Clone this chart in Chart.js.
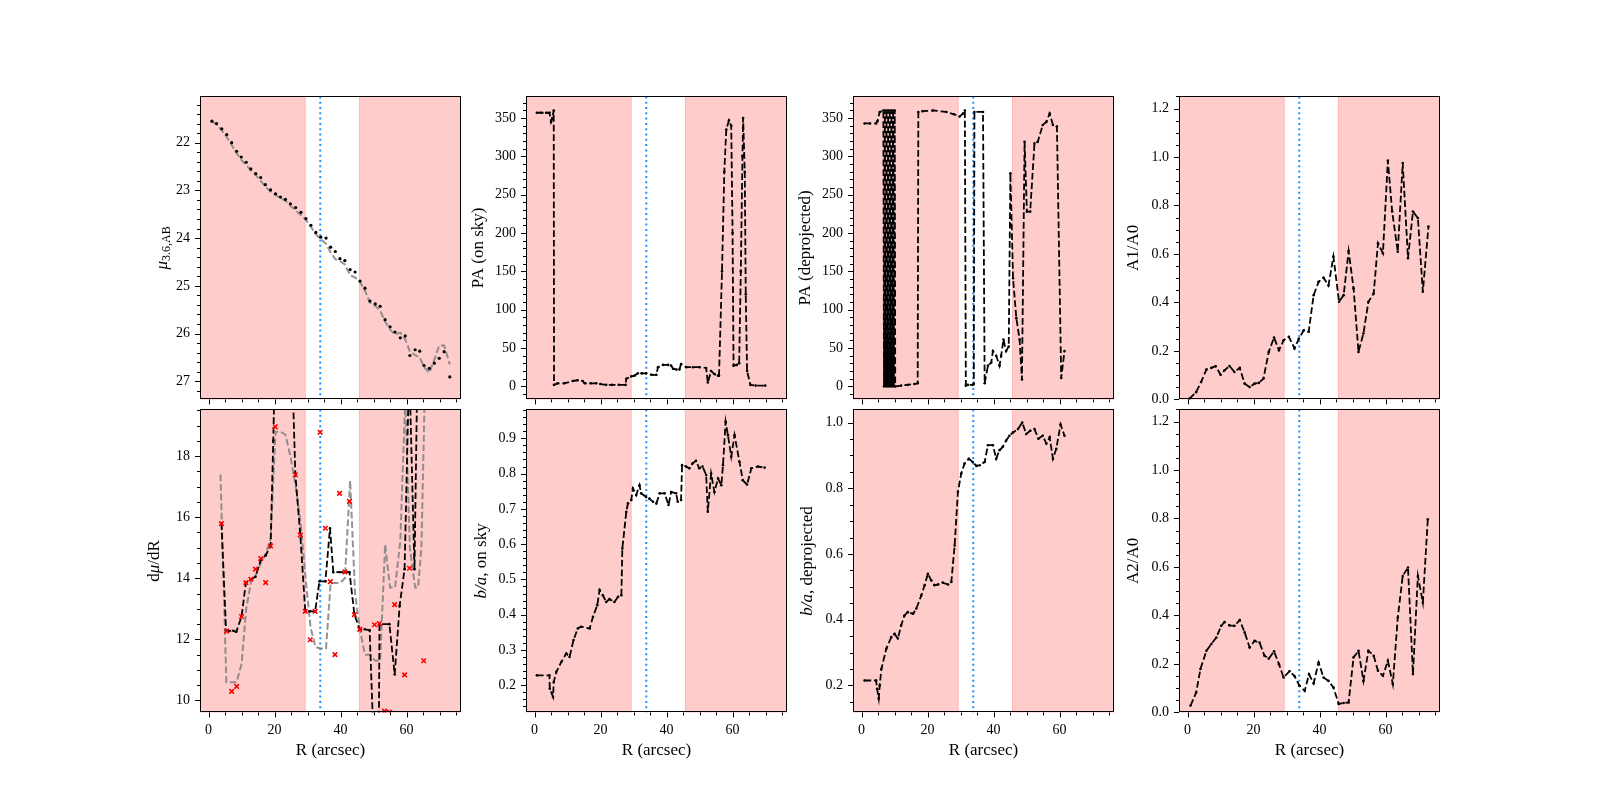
<!DOCTYPE html>
<html>
<head>
<meta charset="utf-8">
<script src="https://cdn.jsdelivr.net/npm/chart.js@4.4.0/dist/chart.umd.min.js"></script>
<style>
  html, body { margin: 0; padding: 0; background: #fff; }
  body { width: 1600px; height: 800px; position: relative; overflow: hidden; }
  canvas { position: absolute; }
</style>
</head>
<body>
<script>
// shared x axis (R in arcsec) and shaded zones
const xMin = -2.6;
const xMax = 76.5;
const xTicks = [0, 20, 40, 60];
const innerLo = 29.3;
const innerHi = 45.7;
const markR = 33.85;

// surface brightness
const muR = [1.0,2.4,4.0,5.5,7.0,8.5,9.9,11.4,12.8,14.3,15.8,17.2,18.8,20.3,21.8,23.3,24.8,26.4,28.0,29.5,31.0,32.5,34.0,35.6,37.0,38.4,39.8,41.3,42.9,44.4,45.9,47.4,48.9,50.5,52.0,53.5,55.0,56.5,58.1,59.6,61.0,62.6,64.0,65.3,66.9,68.4,69.9,71.4,73.1];
const muVal = [21.55,21.60,21.71,21.83,22.00,22.18,22.30,22.41,22.55,22.65,22.73,22.88,22.99,23.07,23.14,23.19,23.28,23.36,23.46,23.59,23.73,23.88,23.98,24.00,24.19,24.28,24.43,24.47,24.66,24.71,24.90,25.05,25.32,25.38,25.43,25.71,25.86,25.97,26.09,26.05,26.46,26.34,26.37,26.67,26.73,26.62,26.52,26.38,26.91];
const muFit = [21.55,21.62,21.74,21.88,22.05,22.22,22.36,22.47,22.58,22.68,22.80,22.92,23.03,23.10,23.16,23.22,23.32,23.42,23.52,23.62,23.76,23.92,24.02,24.12,24.30,24.44,24.48,24.55,24.78,24.82,24.92,25.10,25.35,25.42,25.52,25.75,25.92,26.02,25.98,26.12,26.38,26.45,26.50,26.70,26.82,26.55,26.25,26.25,26.65];
const muTicks = [22, 23, 24, 25, 26, 27];

// PA on sky
const paSkyR = [0.7,2.0,3.5,4.5,5.0,5.4,5.8,5.9,7.0,9.0,11.6,13.0,14.6,15.2,17.0,18.7,20.0,21.7,23.5,25.5,27.6,27.8,29.3,30.3,31.3,32.5,33.8,35.5,36.9,37.4,38.9,40.5,41.4,42.0,43.0,43.9,44.4,46.0,48.0,50.0,52.0,52.5,53.5,54.5,55.6,55.9,56.8,57.5,58.1,58.9,59.6,60.0,60.3,61.3,62.0,62.5,63.0,63.2,63.7,64.0,64.4,65.4,67.0,69.9];
const paSkyVal = [357,357,357,357,345,350,360,2,4,4,7,8,7,4,4,4,3,2,2,2,2,10,13,14,17,17,17,15,15,25,28,28,27,23,22,22,29,25,25,25,24,5,20,16,14,14,150,280,335,347,340,200,27,28,30,150,300,350,280,120,20,2,1,1];

// PA deprojected
const paDepR = [0.9,2.5,4.4,4.8,5.5,6.6,
  6.8,7.05,7.3,7.55,7.8,8.05,8.3,8.55,8.8,9.05,9.3,9.55,9.8,10.05,10.2,
  12.0,14.0,16.0,17.0,17.2,18.5,21.6,25.7,28.0,29.7,30.8,31.3,31.6,32.2,33.7,34.0,34.2,36.8,37.3,38.3,39.3,39.8,40.8,41.8,42.3,43.0,43.8,44.6,45.1,45.9,46.9,47.9,48.6,49.4,50.1,51.1,52.4,53.4,54.9,56.0,57.0,58.0,59.2,60.5,61.5];
const paDepVal = [343,343,343,346,358,360,
  0,360,0,360,0,360,0,360,0,360,0,360,0,360,0,
  1,2,3,4,358,359,360,358,355,352,356,360,1,2,2,3,358,358,4,27,31,46,40,27,40,61,46,52,278,141,89,61,9,319,228,228,317,319,341,345,356,341,339,11,46];
const paTicks = [0, 50, 100, 150, 200, 250, 300, 350];

// m=1 and m=2 Fourier amplitudes
const a1R = [0.6,2.6,4.1,5.7,7.2,8.5,10.0,11.2,12.7,14.2,15.8,17.3,18.8,20.3,21.6,23.0,24.6,26.2,27.7,29.1,30.7,32.4,33.7,35.2,36.7,38.2,39.7,41.2,42.7,44.2,45.9,47.3,48.8,50.3,51.8,53.3,54.8,56.4,57.7,59.2,60.7,62.0,63.7,65.2,66.8,68.3,69.8,71.3,73.0];
const a1Val = [0.003,0.03,0.072,0.123,0.13,0.137,0.102,0.12,0.138,0.113,0.13,0.065,0.051,0.065,0.068,0.086,0.196,0.255,0.203,0.244,0.258,0.21,0.25,0.285,0.279,0.43,0.485,0.502,0.47,0.589,0.403,0.43,0.612,0.458,0.196,0.272,0.403,0.437,0.644,0.603,0.985,0.775,0.609,0.975,0.582,0.775,0.748,0.444,0.713];
const a2R = [0.9,2.6,3.9,5.7,7.2,8.7,10.2,11.2,12.7,14.2,15.8,17.3,18.8,20.3,21.8,23.3,24.6,26.2,27.7,29.1,30.9,32.4,33.9,35.5,36.8,38.2,39.7,41.2,42.7,44.2,45.8,47.3,48.8,50.3,51.8,53.3,54.8,56.4,57.7,59.2,60.7,62.2,63.7,65.2,66.8,68.3,69.8,71.3,72.8];
const a2Val = [0.028,0.082,0.179,0.254,0.282,0.309,0.357,0.373,0.359,0.357,0.381,0.33,0.268,0.295,0.288,0.234,0.222,0.252,0.199,0.144,0.17,0.15,0.11,0.089,0.157,0.12,0.206,0.144,0.13,0.103,0.035,0.039,0.041,0.227,0.254,0.13,0.254,0.234,0.172,0.151,0.213,0.117,0.391,0.563,0.598,0.158,0.563,0.453,0.797];
const ampTicks = [0.0, 0.2, 0.4, 0.6, 0.8, 1.0, 1.2];

// surface brightness gradient
const dmuR = [3.9,5.3,6.0,7.5,8.4,10.0,11.3,12.8,14.2,15.8,17.3,18.8,19.6,20.1,25.3,26.3,27.8,29.3,30.8,32.3,33.6,35.4,36.8,37.8,39.7,41.3,42.7,44.2,45.8,47.3,48.8,49.9,51.6,51.8,54.8,56.4,57.9,59.4,60.8,62.4,63.3];
const dmuVal = [15.8,12.3,12.28,12.28,12.25,12.75,13.86,13.97,14.05,14.6,14.75,15.06,18.5,21,21,17.39,15.42,12.92,12.92,12.92,13.9,13.9,15.64,14.2,14.2,14.2,14.2,12.81,12.33,12.33,12.3,9.0,9.0,12.5,12.5,10.85,13.1,14.3,21,14.3,21];
const dmuObsR = [3.9,5.5,7.0,8.5,10.0,11.3,12.8,14.2,15.8,17.3,18.8,20.2,26.3,27.8,29.3,30.8,32.3,33.8,35.4,36.9,38.3,39.7,41.3,42.7,44.2,45.8,50.3,51.8,53.3,54.8,56.4,59.4,60.9,65.2];
const dmuObsVal = [15.79,12.27,10.30,10.46,12.75,13.86,13.97,14.30,14.65,13.86,15.06,18.96,17.39,15.42,12.92,11.99,12.92,18.78,15.64,13.89,11.50,16.78,14.21,16.52,12.81,12.33,12.48,12.52,9.65,9.62,13.14,10.84,14.33,11.30];
const dmuFitR = [3.6,5.4,8.5,10.0,11.4,12.9,14.3,15.8,17.3,18.8,20.3,21.8,23.3,24.8,26.4,27.9,29.4,30.9,32.4,34.0,35.6,37.0,38.4,39.8,41.3,42.9,44.4,45.9,47.4,48.9,50.5,52.0,53.5,55.0,56.5,58.1,59.6,61.0,62.6,63.5,64.5,65.5];
const dmuFitVal = [17.4,10.6,10.6,11.2,13.0,13.9,14.1,14.5,14.8,15.3,18.8,18.8,18.7,18.0,17.0,15.8,14.0,12.4,11.75,11.7,11.7,13.85,13.85,13.85,14.0,17.2,13.5,12.3,11.5,11.5,11.3,11.3,15.1,13.7,13.7,15.2,19.9,15.0,13.7,13.7,15.0,20.0];
const dmuTicks = [10, 12, 14, 16, 18];

// axis ratio on sky / deprojected
const baSkyR = [0.7,4.5,4.6,5.6,5.8,6.6,8.1,9.6,10.6,11.8,13.1,14.1,16.7,17.7,19.0,19.7,20.7,21.7,22.7,24.2,25.3,26.3,26.6,27.8,28.3,29.3,29.8,30.8,31.8,32.3,33.8,34.8,35.9,36.9,37.9,39.4,40.6,41.4,42.9,43.4,44.4,44.7,45.9,46.9,47.9,48.9,49.9,50.9,52.0,52.5,53.5,54.5,55.6,56.6,57.1,57.9,58.6,59.6,60.6,62.1,63.1,64.4,65.7,67.7,69.7];
const baSkyVal = [0.228,0.228,0.19,0.167,0.209,0.238,0.266,0.29,0.28,0.328,0.361,0.366,0.361,0.394,0.427,0.470,0.455,0.436,0.444,0.436,0.451,0.455,0.588,0.692,0.716,0.725,0.758,0.739,0.767,0.744,0.734,0.729,0.72,0.715,0.744,0.744,0.711,0.748,0.744,0.72,0.725,0.824,0.82,0.815,0.829,0.836,0.815,0.82,0.796,0.692,0.80,0.748,0.786,0.767,0.824,0.947,0.909,0.848,0.909,0.833,0.781,0.769,0.815,0.82,0.817];
const baSkyTicks = [0.2, 0.3, 0.4, 0.5, 0.6, 0.7, 0.8, 0.9];
const baDepR = [0.9,4.4,4.7,5.2,5.5,6.0,7.5,9.0,10.0,11.0,12.0,13.0,14.0,15.6,16.6,18.1,19.1,20.1,21.1,22.1,23.1,24.6,26.2,27.2,28.2,29.2,30.2,31.2,32.5,33.7,34.8,35.8,37.3,38.3,39.8,40.8,41.8,42.8,43.8,44.8,45.9,47.4,48.7,49.9,51.1,52.4,53.6,54.9,56.0,57.0,58.0,59.0,60.3,61.5];
const baDepVal = [0.215,0.215,0.19,0.16,0.2,0.25,0.312,0.347,0.357,0.343,0.383,0.413,0.423,0.418,0.434,0.474,0.505,0.54,0.52,0.505,0.507,0.513,0.507,0.515,0.626,0.789,0.845,0.875,0.89,0.88,0.868,0.87,0.88,0.931,0.931,0.89,0.916,0.926,0.945,0.96,0.97,0.98,1.0,0.965,0.975,0.98,0.951,0.96,0.936,0.955,0.89,0.92,0.994,0.96];
const baDepTicks = [0.2, 0.4, 0.6, 0.8, 1.0];

Chart.defaults.font.family = '"Liberation Serif", "DejaVu Serif", serif';
Chart.defaults.font.size = 14;
Chart.defaults.color = '#000';

const colLeft = [200, 526, 853, 1179];
const rowTop = [96, 409];
const axW = 261, axH = 303;
const padL = 80, padR = 8, padT = 6, padB = 60;
const serif = '"Liberation Serif", serif';

const pts = (xs, ys) => xs.map((x, i) => ({ x, y: ys[i] }));

const blackDash = (xs, ys) => ({
  data: pts(xs, ys), borderColor: '#000', borderWidth: 1.8, borderDash: [6.7, 2.9],
  pointRadius: 1.3, pointBackgroundColor: '#000', pointBorderWidth: 0, tension: 0, fill: false,
});
const greyDash = (xs, ys) => ({
  data: pts(xs, ys), borderColor: 'rgba(128,128,128,0.85)', borderWidth: 2, borderDash: [6.7, 2.9],
  pointRadius: 0, tension: 0, fill: false,
});

const panels = [
  { col: 0, row: 0, min: 21.03, max: 27.38, reverse: true, ticks: muTicks, minor: 0.2, dec: 0, off: 37,
    label: [{ t: 'μ', f: 'italic 17px ' + serif }, { t: '3.6,AB', f: '12px ' + serif, dy: 4 }],
    datasets: [
      { data: pts(muR, muVal), showLine: false, pointRadius: 1.6, pointBackgroundColor: '#000', pointBorderWidth: 0 },
      greyDash(muR, muFit),
    ] },
  { col: 1, row: 0, min: -17, max: 378.3, ticks: paTicks, minor: 10, dec: 0, off: 47,
    label: [{ t: 'PA (on sky)' }], datasets: [blackDash(paSkyR, paSkyVal)] },
  { col: 2, row: 0, min: -17, max: 378.3, ticks: paTicks, minor: 10, dec: 0, off: 47,
    label: [{ t: 'PA (deprojected)' }], datasets: [blackDash(paDepR, paDepVal)] },
  { col: 3, row: 0, min: 0, max: 1.25, ticks: ampTicks, minor: 0.05, dec: 1, off: 45,
    label: [{ t: 'A1/A0' }], datasets: [blackDash(a1R, a1Val)] },
  { col: 0, row: 1, min: 9.61, max: 19.53, ticks: dmuTicks, minor: 0.5, dec: 0, off: 45,
    label: [{ t: 'd' }, { t: 'μ', f: 'italic 17px ' + serif }, { t: '/dR' }],
    datasets: [
      { data: pts(dmuObsR, dmuObsVal), showLine: false, pointStyle: 'crossRot', pointRadius: 3.2,
        pointBorderColor: '#ff0000', pointBorderWidth: 1.6 },
      blackDash(dmuR, dmuVal),
      greyDash(dmuFitR, dmuFitVal),
    ] },
  { col: 1, row: 1, min: 0.123, max: 0.982, ticks: baSkyTicks, minor: 0.02, dec: 1, off: 44,
    label: [{ t: 'b/a', f: 'italic 17px ' + serif }, { t: ', on sky' }], datasets: [blackDash(baSkyR, baSkyVal)] },
  { col: 2, row: 1, min: 0.118, max: 1.04, ticks: baDepTicks, minor: 0.05, dec: 1, off: 45,
    label: [{ t: 'b/a', f: 'italic 17px ' + serif }, { t: ', deprojected' }], datasets: [blackDash(baDepR, baDepVal)] },
  { col: 3, row: 1, min: 0, max: 1.25, ticks: ampTicks, minor: 0.05, dec: 1, off: 45,
    label: [{ t: 'A2/A0' }], datasets: [blackDash(a2R, a2Val)] },
];

function drawTicks(ctx, scale, a, horizontal, minorStep) {
  const majors = scale.ticks.map(t => t.value);
  const lo = Math.min(scale.min, scale.max), hi = Math.max(scale.min, scale.max);
  const mark = (v, len) => {
    const p = Math.round(scale.getPixelForValue(v)) + 0.5;
    ctx.beginPath();
    if (horizontal) { ctx.moveTo(p, a.bottom); ctx.lineTo(p, a.bottom + len); }
    else { ctx.moveTo(a.left, p); ctx.lineTo(a.left - len, p); }
    ctx.stroke();
  };
  majors.forEach(v => mark(v, 5));
  for (let k = Math.ceil(lo / minorStep - 1e-9); k * minorStep <= hi + 1e-9; k++) {
    const v = k * minorStep;
    if (majors.some(m => Math.abs(m - v) < minorStep * 0.01)) continue;
    mark(v, 3);
  }
}

const decor = {
  id: 'decor',
  beforeDatasetsDraw(chart) {
    const { ctx, chartArea: a } = chart;
    const x = chart.scales.x;
    ctx.save();
    ctx.beginPath();
    ctx.rect(a.left, a.top, a.right - a.left, a.bottom - a.top);
    ctx.clip();
    [[xMin, innerLo], [innerHi, xMax]].forEach(([s, e]) => {
      const x0 = x.getPixelForValue(s), x1 = x.getPixelForValue(e);
      ctx.fillStyle = 'rgba(255,0,0,0.2)';
      ctx.fillRect(x0, a.top, x1 - x0, a.bottom - a.top);
      ctx.strokeStyle = 'rgba(255,0,0,0.2)';
      ctx.lineWidth = 1;
      ctx.strokeRect(x0, a.top, x1 - x0, a.bottom - a.top);
    });
    const xb = x.getPixelForValue(markR);
    ctx.strokeStyle = '#1e90ff';
    ctx.lineWidth = 2;
    ctx.setLineDash([2, 3.3]);
    ctx.beginPath();
    ctx.moveTo(xb, a.top);
    ctx.lineTo(xb, a.bottom);
    ctx.stroke();
    ctx.restore();
  },
  afterDraw(chart) {
    const { ctx, chartArea: a } = chart;
    const cfg = chart.options.plugins.decor;
    ctx.save();
    ctx.strokeStyle = '#000';
    ctx.lineWidth = 1;
    ctx.strokeRect(Math.round(a.left) + 0.5, Math.round(a.top) + 0.5,
      Math.round(a.right - a.left) - 1, Math.round(a.bottom - a.top) - 1);
    drawTicks(ctx, chart.scales.x, a, true, 5);
    drawTicks(ctx, chart.scales.y, a, false, cfg.minor);

    // y label, rotated, made of styled pieces
    const pieces = cfg.label.map(p => ({ t: p.t, f: p.f || '17px ' + serif, dy: p.dy || 0 }));
    let total = 0;
    pieces.forEach(p => { ctx.font = p.f; p.w = ctx.measureText(p.t).width; total += p.w; });
    ctx.translate(a.left - cfg.off, (a.top + a.bottom) / 2);
    ctx.rotate(-Math.PI / 2);
    ctx.fillStyle = '#000';
    ctx.textBaseline = 'middle';
    ctx.textAlign = 'left';
    let cx = -total / 2;
    pieces.forEach(p => { ctx.font = p.f; ctx.fillText(p.t, cx, p.dy); cx += p.w; });
    ctx.restore();

    if (cfg.xLabel) {
      ctx.save();
      ctx.font = '17px ' + serif;
      ctx.fillStyle = '#000';
      ctx.textAlign = 'center';
      ctx.textBaseline = 'middle';
      ctx.fillText('R (arcsec)', (a.left + a.right) / 2, a.bottom + 38);
      ctx.restore();
    }
  }
};

panels.forEach(p => {
  const cv = document.createElement('canvas');
  const w = axW + padL + padR, h = axH + padT + padB;
  cv.width = w; cv.height = h;
  document.body.appendChild(cv);

  const chart = new Chart(cv, {
    type: 'line',
    data: { datasets: p.datasets },
    plugins: [decor],
    options: {
      responsive: false,
      maintainAspectRatio: false,
      animation: false,
      devicePixelRatio: 1,
      layout: { padding: { left: 0, right: padR, top: padT, bottom: 0 } },
      plugins: {
        legend: { display: false },
        tooltip: { enabled: false },
        decor: { minor: p.minor, off: p.off, label: p.label, xLabel: p.row === 1 },
      },
      scales: {
        x: {
          type: 'linear', min: xMin, max: xMax,
          grid: { display: false, drawTicks: true, tickLength: 5 },
          border: { display: false },
          ticks: { display: p.row === 1, padding: 5, autoSkip: false, maxRotation: 0, callback: v => String(v) },
          afterBuildTicks: s => { s.ticks = xTicks.map(v => ({ value: v })); },
          afterFit: s => { s.height = padB; },
        },
        y: {
          type: 'linear', min: p.min, max: p.max, reverse: !!p.reverse,
          grid: { display: false, drawTicks: true, tickLength: 5 },
          border: { display: false },
          ticks: { padding: 5, autoSkip: false, callback: v => Number(v).toFixed(p.dec) },
          afterBuildTicks: s => { s.ticks = p.ticks.map(v => ({ value: v })); },
          afterFit: s => { s.width = padL; },
        },
      },
    },
  });

  // the library may add room for edge tick labels; resize so the plot box is exactly axW x axH
  let ca = chart.chartArea;
  const l = ca.left, t = ca.top, r = w - ca.right, b = h - ca.bottom;
  chart.resize(axW + l + r, axH + t + b);
  ca = chart.chartArea;
  cv.style.left = (colLeft[p.col] - ca.left) + 'px';
  cv.style.top = (rowTop[p.row] - ca.top) + 'px';
});
</script>
</body>
</html>
